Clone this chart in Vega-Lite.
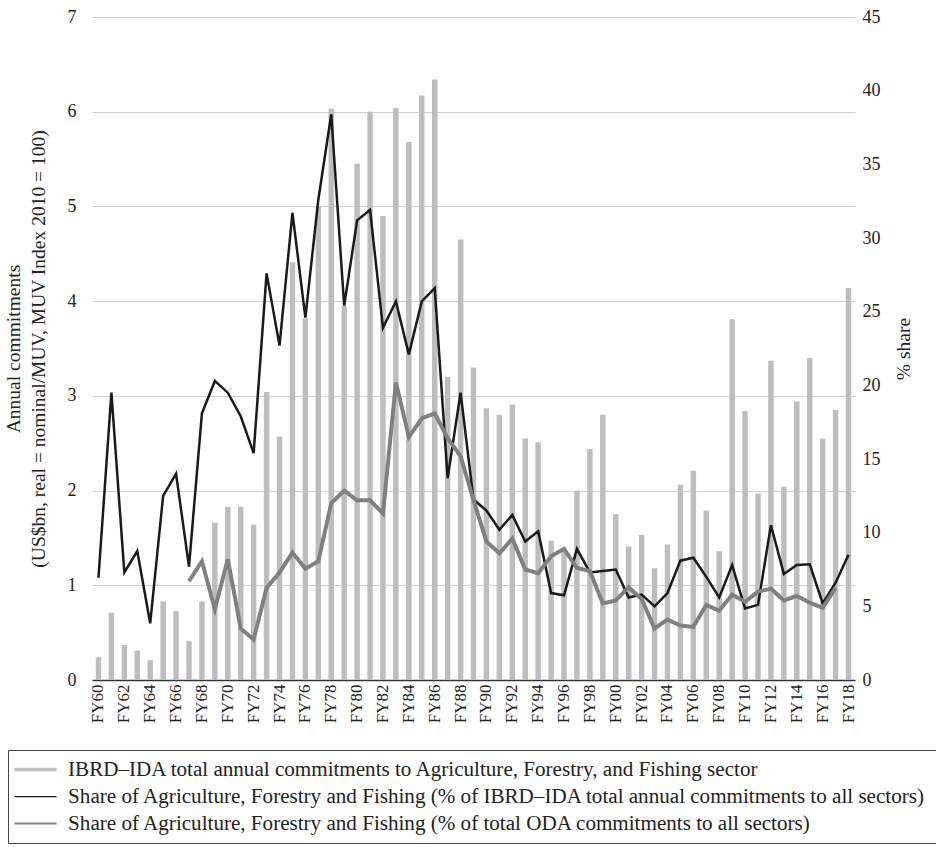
{
  "$schema": "https://vega.github.io/schema/vega-lite/v6.json",
  "width": 763,
  "height": 663,
  "autosize": {"type": "none"},
  "padding": {"left": 92, "top": 17, "right": 81, "bottom": 167},
  "background": "white",
  "config": {
    "view": {"stroke": null},
    "font": "Liberation Serif, DejaVu Serif, serif",
    "axis": {"labelFont": "Liberation Serif, DejaVu Serif, serif", "titleFont": "Liberation Serif, DejaVu Serif, serif", "labelColor": "#222", "titleColor": "#222", "titleFontWeight": "normal"},
    "legend": {"labelFont": "Liberation Serif, DejaVu Serif, serif"}
  },
  "datasets": {
    "bars": [
      {"fy": 1960, "value": 0.24}, {"fy": 1961, "value": 0.71}, {"fy": 1962, "value": 0.37}, {"fy": 1963, "value": 0.31},
      {"fy": 1964, "value": 0.21}, {"fy": 1965, "value": 0.83}, {"fy": 1966, "value": 0.73}, {"fy": 1967, "value": 0.41},
      {"fy": 1968, "value": 0.83}, {"fy": 1969, "value": 1.66}, {"fy": 1970, "value": 1.83}, {"fy": 1971, "value": 1.83},
      {"fy": 1972, "value": 1.64}, {"fy": 1973, "value": 3.04}, {"fy": 1974, "value": 2.57}, {"fy": 1975, "value": 4.41},
      {"fy": 1976, "value": 3.82}, {"fy": 1977, "value": 5.0}, {"fy": 1978, "value": 6.03}, {"fy": 1979, "value": 3.95},
      {"fy": 1980, "value": 5.45}, {"fy": 1981, "value": 6.0}, {"fy": 1982, "value": 4.9}, {"fy": 1983, "value": 6.04},
      {"fy": 1984, "value": 5.68}, {"fy": 1985, "value": 6.17}, {"fy": 1986, "value": 6.34}, {"fy": 1987, "value": 3.2},
      {"fy": 1988, "value": 4.65}, {"fy": 1989, "value": 3.3}, {"fy": 1990, "value": 2.87}, {"fy": 1991, "value": 2.8},
      {"fy": 1992, "value": 2.91}, {"fy": 1993, "value": 2.55}, {"fy": 1994, "value": 2.51}, {"fy": 1995, "value": 1.47},
      {"fy": 1996, "value": 1.38}, {"fy": 1997, "value": 2.0}, {"fy": 1998, "value": 2.44}, {"fy": 1999, "value": 2.8},
      {"fy": 2000, "value": 1.75}, {"fy": 2001, "value": 1.41}, {"fy": 2002, "value": 1.53}, {"fy": 2003, "value": 1.18},
      {"fy": 2004, "value": 1.43}, {"fy": 2005, "value": 2.06}, {"fy": 2006, "value": 2.21}, {"fy": 2007, "value": 1.79},
      {"fy": 2008, "value": 1.36}, {"fy": 2009, "value": 3.81}, {"fy": 2010, "value": 2.84}, {"fy": 2011, "value": 1.97},
      {"fy": 2012, "value": 3.37}, {"fy": 2013, "value": 2.04}, {"fy": 2014, "value": 2.94}, {"fy": 2015, "value": 3.4},
      {"fy": 2016, "value": 2.55}, {"fy": 2017, "value": 2.85}, {"fy": 2018, "value": 4.14}
    ],
    "ibrd": [
      {"fy": 1960, "value": 6.94}, {"fy": 1961, "value": 19.5}, {"fy": 1962, "value": 7.3}, {"fy": 1963, "value": 8.75},
      {"fy": 1964, "value": 3.85}, {"fy": 1965, "value": 12.5}, {"fy": 1966, "value": 14.0}, {"fy": 1967, "value": 7.7},
      {"fy": 1968, "value": 18.1}, {"fy": 1969, "value": 20.3}, {"fy": 1970, "value": 19.5}, {"fy": 1971, "value": 17.9},
      {"fy": 1972, "value": 15.4}, {"fy": 1973, "value": 27.6}, {"fy": 1974, "value": 22.7}, {"fy": 1975, "value": 31.7},
      {"fy": 1976, "value": 24.6}, {"fy": 1977, "value": 32.6}, {"fy": 1978, "value": 38.4}, {"fy": 1979, "value": 25.4},
      {"fy": 1980, "value": 31.2}, {"fy": 1981, "value": 31.9}, {"fy": 1982, "value": 23.9}, {"fy": 1983, "value": 25.7},
      {"fy": 1984, "value": 22.1}, {"fy": 1985, "value": 25.7}, {"fy": 1986, "value": 26.6}, {"fy": 1987, "value": 13.7},
      {"fy": 1988, "value": 19.5}, {"fy": 1989, "value": 12.25}, {"fy": 1990, "value": 11.5}, {"fy": 1991, "value": 10.2},
      {"fy": 1992, "value": 11.2}, {"fy": 1993, "value": 9.4}, {"fy": 1994, "value": 10.1}, {"fy": 1995, "value": 5.9},
      {"fy": 1996, "value": 5.75}, {"fy": 1997, "value": 8.9}, {"fy": 1998, "value": 7.3}, {"fy": 1999, "value": 7.4},
      {"fy": 2000, "value": 7.5}, {"fy": 2001, "value": 5.6}, {"fy": 2002, "value": 5.8}, {"fy": 2003, "value": 5.0},
      {"fy": 2004, "value": 5.9}, {"fy": 2005, "value": 8.1}, {"fy": 2006, "value": 8.3}, {"fy": 2007, "value": 7.0},
      {"fy": 2008, "value": 5.6}, {"fy": 2009, "value": 7.8}, {"fy": 2010, "value": 4.85}, {"fy": 2011, "value": 5.1},
      {"fy": 2012, "value": 10.5}, {"fy": 2013, "value": 7.2}, {"fy": 2014, "value": 7.8}, {"fy": 2015, "value": 7.85},
      {"fy": 2016, "value": 5.2}, {"fy": 2017, "value": 6.6}, {"fy": 2018, "value": 8.5}
    ],
    "oda": [
      {"fy": 1967, "value": 6.7}, {"fy": 1968, "value": 8.06}, {"fy": 1969, "value": 4.8}, {"fy": 1970, "value": 8.2},
      {"fy": 1971, "value": 3.5}, {"fy": 1972, "value": 2.75}, {"fy": 1973, "value": 6.25}, {"fy": 1974, "value": 7.3},
      {"fy": 1975, "value": 8.65}, {"fy": 1976, "value": 7.56}, {"fy": 1977, "value": 8.06}, {"fy": 1978, "value": 12.0},
      {"fy": 1979, "value": 12.85}, {"fy": 1980, "value": 12.2}, {"fy": 1981, "value": 12.2}, {"fy": 1982, "value": 11.3},
      {"fy": 1983, "value": 20.2}, {"fy": 1984, "value": 16.5}, {"fy": 1985, "value": 17.75}, {"fy": 1986, "value": 18.1},
      {"fy": 1987, "value": 16.4}, {"fy": 1988, "value": 15.2}, {"fy": 1989, "value": 12.2}, {"fy": 1990, "value": 9.4},
      {"fy": 1991, "value": 8.6}, {"fy": 1992, "value": 9.6}, {"fy": 1993, "value": 7.5}, {"fy": 1994, "value": 7.25},
      {"fy": 1995, "value": 8.4}, {"fy": 1996, "value": 8.9}, {"fy": 1997, "value": 7.6}, {"fy": 1998, "value": 7.4},
      {"fy": 1999, "value": 5.2}, {"fy": 2000, "value": 5.4}, {"fy": 2001, "value": 6.3}, {"fy": 2002, "value": 5.5},
      {"fy": 2003, "value": 3.5}, {"fy": 2004, "value": 4.1}, {"fy": 2005, "value": 3.7}, {"fy": 2006, "value": 3.6},
      {"fy": 2007, "value": 5.1}, {"fy": 2008, "value": 4.7}, {"fy": 2009, "value": 5.8}, {"fy": 2010, "value": 5.3},
      {"fy": 2011, "value": 6.0}, {"fy": 2012, "value": 6.2}, {"fy": 2013, "value": 5.4}, {"fy": 2014, "value": 5.7},
      {"fy": 2015, "value": 5.25}, {"fy": 2016, "value": 4.9}, {"fy": 2017, "value": 6.25}
    ]
  },
  "resolve": {"scale": {"y": "independent"}},
  "layer": [
    {
      "data": {"name": "bars"},
      "mark": {"type": "bar"},
      "encoding": {
        "x": {
          "field": "fy", "type": "ordinal",
          "scale": {"paddingInner": 0.58},
          "axis": {
            "title": null,
            "values": [1960,1962,1964,1966,1968,1970,1972,1974,1976,1978,1980,1982,1984,1986,1988,1990,1992,1994,1996,1998,2000,2002,2004,2006,2008,2010,2012,2014,2016,2018],
            "labelExpr": "'FY' + substring(datum.label, 2)",
            "labelAngle": -90, "labelAlign": "right", "labelBaseline": "middle",
            "labelFontSize": 17, "labelPadding": 4,
            "ticks": false, "domainColor": "#333", "domainWidth": 1.5
          }
        },
        "y": {
          "field": "value", "type": "quantitative",
          "scale": {"domain": [0, 7], "nice": false},
          "axis": {
            "orient": "left",
            "values": [0,1,2,3,4,5,6,7],
            "title": ["Annual commitments", "(US$bn, real = nominal/MUV, MUV Index 2010 = 100)"],
            "titleFontSize": 19.5, "titleLineHeight": 25, "titlePadding": 19,
            "labelFontSize": 18, "labelPadding": 16,
            "grid": true, "gridColor": "#cfcfcf", "gridWidth": 1,
            "ticks": false, "domain": false
          }
        },
        "color": {
          "datum": "Commitments", "type": "nominal",
          "scale": {"domain": ["Commitments", "IBRD-IDA", "ODA"], "range": ["#bdbdbf", "#1a1a1a", "#808080"]},
          "legend": {
            "orient": "none", "legendX": -84, "legendY": 733,
            "title": null,
            "symbolType": "M-4.2,-0.35H4.2V0.35H-4.2Z", "symbolSize": 100, "symbolStrokeWidth": 0,
            "symbolOffset": 8,
            "labelFontSize": 21.1, "labelColor": "#222", "labelLimit": 0,
            "labelOffset": 22, "rowPadding": 5,
            "strokeColor": "#444", "padding": 9,
            "labelExpr": "datum.value === 'Commitments' ? 'IBRD–IDA total annual commitments to Agriculture, Forestry, and Fishing sector' : datum.value === 'IBRD-IDA' ? 'Share of Agriculture, Forestry and Fishing (% of IBRD–IDA total annual commitments to all sectors)' : 'Share of Agriculture, Forestry and Fishing (% of total ODA commitments to all sectors)'",
            "encode": {
              "symbols": {
                "update": {
                  "shape": {"signal": "datum.value === 'Commitments' ? 'M-4.2,-0.35H4.2V0.35H-4.2Z' : datum.value === 'ODA' ? 'M-4.2,-0.2H4.2V0.2H-4.2Z' : 'M-4.2,-0.125H4.2V0.125H-4.2Z'"},
                  "fill": {"scale": "color", "field": "value"},
                  "stroke": {"value": null},
                  "strokeWidth": {"value": 0},
                  "opacity": {"value": 1}
                }
              }
            }
          }
        }
      }
    },
    {
      "layer": [
        {
          "data": {"name": "ibrd"},
          "mark": {"type": "line", "strokeWidth": 2.5, "strokeJoin": "miter"},
          "encoding": {
            "x": {"field": "fy", "type": "ordinal"},
            "y": {
              "field": "value", "type": "quantitative",
              "scale": {"domain": [0, 45], "nice": false},
              "axis": {
                "orient": "right",
                "values": [0,5,10,15,20,25,30,35,40,45],
                "title": "% share", "titleAngle": 270,
                "titleFontSize": 19.5, "titlePadding": 33,
                "labelFontSize": 18, "labelPadding": 7,
                "grid": false, "ticks": false, "domain": false
              }
            },
            "color": {"datum": "IBRD-IDA", "type": "nominal"}
          }
        },
        {
          "data": {"name": "oda"},
          "mark": {"type": "line", "strokeWidth": 4, "strokeJoin": "miter"},
          "encoding": {
            "x": {"field": "fy", "type": "ordinal"},
            "y": {"field": "value", "type": "quantitative"},
            "color": {"datum": "ODA", "type": "nominal"}
          }
        }
      ]
    }
  ]
}
